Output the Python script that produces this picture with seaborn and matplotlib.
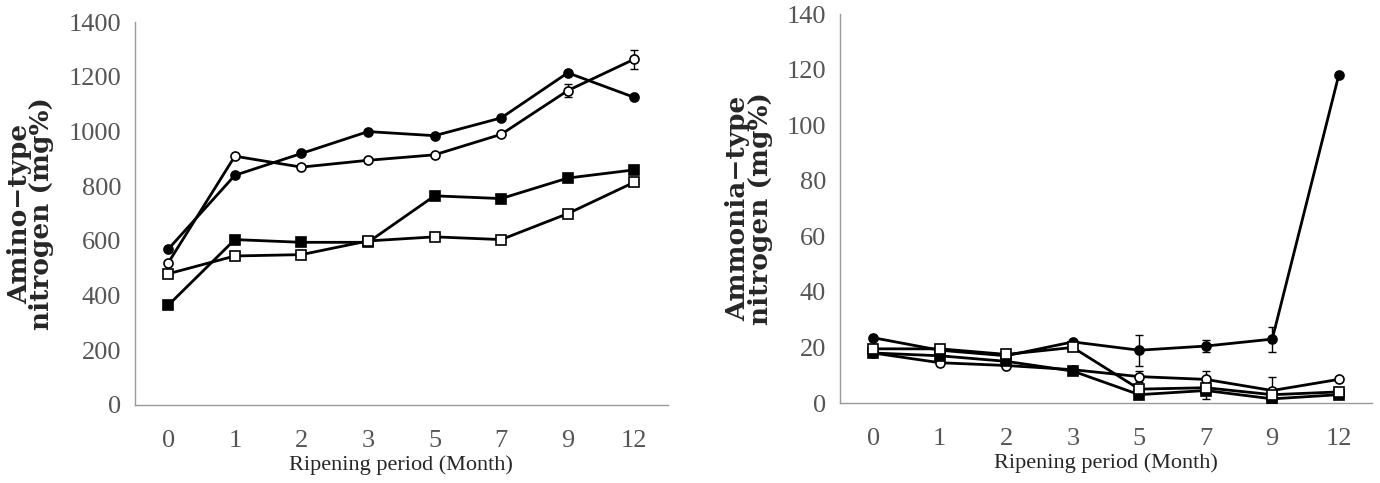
import matplotlib
matplotlib.use('Agg')
import matplotlib.pyplot as plt
import seaborn as sns
import numpy as np

sns.set_style("white")
plt.rcParams['font.family'] = ['Liberation Serif', 'DejaVu Serif']

months = ['0', '1', '2', '3', '5', '7', '9', '12']

# amino-type nitrogen (mg%)
amino_filled_circle = [570, 840, 920, 1000, 985, 1050, 1215, 1125]
amino_open_circle = [520, 910, 870, 895, 915, 990, 1150, 1265]
amino_filled_square = [365, 605, 595, 595, 765, 755, 830, 860]
amino_open_square = [480, 545, 550, 600, 615, 605, 700, 815]
amino_open_circle_err = [0, 0, 0, 0, 0, 0, 25, 35]

# ammonia-type nitrogen (mg%)
ammonia_filled_circle = [23.5, 19, 17, 22, 19, 20.5, 23, 118]
ammonia_open_circle = [18, 14.5, 13.5, 12, 9.5, 8.5, 4.5, 8.5]
ammonia_filled_square = [18, 17, 15, 11.5, 3, 4.5, 1.5, 3]
ammonia_open_square = [19.5, 19.5, 17.5, 20, 5, 5.5, 3, 4]
ammonia_filled_circle_err = [0, 0, 0, 0, 5.5, 2, 4.5, 0]
ammonia_open_circle_err = [0, 0, 0, 0, 2, 3, 5, 0]
ammonia_filled_square_err = [0, 0, 0, 0, 0, 3, 0, 0]

tick_grey = '#555555'
spine_grey = '#999999'


def draw_panel(ax, series, errs, ylim, yticks, ylabel):
    xs = np.arange(len(months))
    for vals, marker, face in series:
        sns.lineplot(x=xs, y=vals, ax=ax, color='black', lw=2.0, marker=marker,
                     markersize=6.5, markerfacecolor=face, markeredgecolor='black',
                     markeredgewidth=1.2, zorder=3)
    for vals, err in errs:
        e = np.array(err, dtype=float)
        m = e > 0
        ax.errorbar(xs[m], np.array(vals)[m], yerr=e[m], fmt='none', ecolor='black',
                    elinewidth=1.0, capsize=3, zorder=2)
    ax.set_xlim(-0.5, len(months) - 0.5)
    ax.set_ylim(*ylim)
    ax.set_yticks(yticks)
    ax.set_xticks(xs)
    ax.set_xticklabels(months)
    ax.set_xticks(np.arange(len(months)) + 0.5, minor=True)
    ax.tick_params(axis='x', which='major', length=0, pad=18, labelsize=19, labelcolor=tick_grey)
    ax.tick_params(axis='x', which='minor', length=5, direction='in', color=spine_grey, width=1)
    ax.tick_params(axis='y', length=5, direction='in', color=spine_grey, width=1,
                   pad=10, labelsize=19, labelcolor=tick_grey)
    for s in ['top', 'right']:
        ax.spines[s].set_visible(False)
    for s in ['left', 'bottom']:
        ax.spines[s].set_color(spine_grey)
        ax.spines[s].set_linewidth(1.0)
    ax.set_xlabel('Ripening period (Month)', fontsize=16, labelpad=2)
    ax.set_ylabel(ylabel, fontsize=19, fontweight='bold', labelpad=10, linespacing=0.85,
                  family=['DejaVu Serif'])


fig = plt.figure(figsize=(13.8, 4.83), dpi=100)
ax1 = fig.add_axes([0.0978, 0.1615, 0.386, 0.7925])
ax2 = fig.add_axes([0.6087, 0.1656, 0.3855, 0.8054])

draw_panel(ax1,
           [(amino_filled_circle, 'o', 'black'), (amino_open_circle, 'o', 'white'),
            (amino_filled_square, 's', 'black'), (amino_open_square, 's', 'white')],
           [(amino_open_circle, amino_open_circle_err)],
           (0, 1400), np.arange(0, 1401, 200), 'Amino\u2212type\nnitrogen (mg%)')

draw_panel(ax2,
           [(ammonia_filled_circle, 'o', 'black'), (ammonia_open_circle, 'o', 'white'),
            (ammonia_filled_square, 's', 'black'), (ammonia_open_square, 's', 'white')],
           [(ammonia_filled_circle, ammonia_filled_circle_err),
            (ammonia_open_circle, ammonia_open_circle_err),
            (ammonia_filled_square, ammonia_filled_square_err)],
           (0, 140), np.arange(0, 141, 20), 'Ammonia\u2212type\nnitrogen (mg%)')

fig.savefig('out.png', dpi=100)
